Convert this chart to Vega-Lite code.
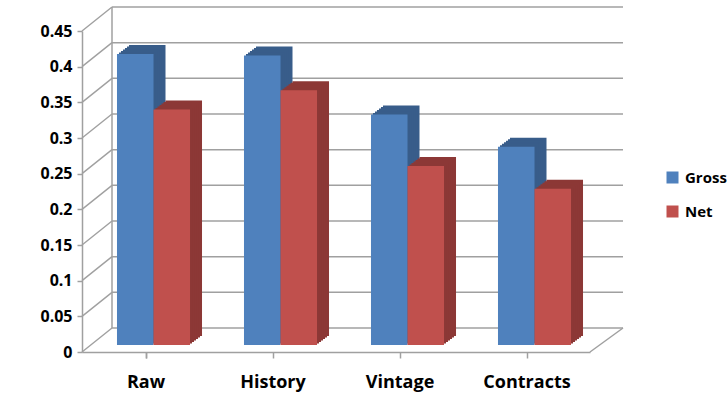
{
  "$schema": "https://vega.github.io/schema/vega-lite/v6.json",
  "width": 508,
  "height": 321,
  "autosize": {"type": "none"},
  "padding": {"left": 82, "top": 31, "right": 138, "bottom": 59},
  "background": "white",
  "config": {
    "view": {"stroke": null},
    "font": "Open Sans",
    "axis": {
      "labelFont": "Open Sans",
      "labelFontWeight": "bold",
      "labelColor": "#000000",
      "domainColor": "#a0a0a0",
      "tickColor": "#a0a0a0",
      "domainWidth": 1.5,
      "tickWidth": 1.5,
      "grid": false,
      "title": null
    },
    "axisX": {"labelFontSize": 18, "labelAngle": 0, "tickSize": 6, "labelPadding": 15, "tickBand": "extent"},
    "axisY": {"labelFontSize": 16, "tickSize": 5, "labelPadding": 5},
    "legend": {
      "orient": "none",
      "legendX": 583,
      "legendY": 139,
      "padding": 0,
      "labelFont": "Open Sans",
      "labelFontWeight": "bold",
      "labelFontSize": 15,
      "labelColor": "#000000",
      "symbolType": "square",
      "symbolSize": 144,
      "symbolStrokeWidth": 0,
      "rowPadding": 18,
      "labelOffset": 5
    }
  },
  "datasets": {
    "ticks": [{"t": 0}, {"t": 0.05}, {"t": 0.1}, {"t": 0.15}, {"t": 0.2}, {"t": 0.25}, {"t": 0.3}, {"t": 0.35}, {"t": 0.4}, {"t": 0.45}],
    "scores": [
      {"category": "Raw", "series": "Gross", "value": 0.408},
      {"category": "Raw", "series": "Net", "value": 0.33},
      {"category": "History", "series": "Gross", "value": 0.406},
      {"category": "History", "series": "Net", "value": 0.357},
      {"category": "Vintage", "series": "Gross", "value": 0.323},
      {"category": "Vintage", "series": "Net", "value": 0.251},
      {"category": "Contracts", "series": "Gross", "value": 0.278},
      {"category": "Contracts", "series": "Net", "value": 0.219}
    ]
  },
  "layer": [
    {
      "data": {"name": "ticks"},
      "mark": {"type": "rule", "color": "#a0a0a0", "strokeWidth": 1.5, "x2Offset": 30, "y2Offset": -24},
      "encoding": {
        "x": {"datum": 0, "type": "quantitative", "scale": {"domain": [0, 1]}, "axis": null},
        "x2": {"datum": 0},
        "y": {"field": "t", "type": "quantitative", "scale": {"domain": [0, 0.45], "nice": false}, "axis": null},
        "y2": {"field": "t"}
      }
    },
    {
      "data": {"name": "ticks"},
      "mark": {"type": "rule", "color": "#a0a0a0", "strokeWidth": 1.5, "xOffset": 30, "x2Offset": 33, "yOffset": -24, "y2Offset": -24},
      "encoding": {
        "x": {"datum": 0, "type": "quantitative", "scale": {"domain": [0, 1]}, "axis": null},
        "x2": {"datum": 1},
        "y": {"field": "t", "type": "quantitative", "scale": {"domain": [0, 0.45], "nice": false}, "axis": null},
        "y2": {"field": "t"}
      }
    },
    {
      "data": {"values": [{"lo": 0, "hi": 0.45}]},
      "mark": {"type": "rule", "color": "#a0a0a0", "strokeWidth": 1.5, "xOffset": 30, "x2Offset": 30, "yOffset": -24, "y2Offset": -24},
      "encoding": {
        "x": {"datum": 0, "type": "quantitative", "scale": {"domain": [0, 1]}, "axis": null},
        "x2": {"datum": 0},
        "y": {"field": "lo", "type": "quantitative", "scale": {"domain": [0, 0.45], "nice": false}, "axis": null},
        "y2": {"field": "hi"}
      }
    },
    {
      "data": {"values": [{"lo": 0}]},
      "mark": {"type": "rule", "color": "#a0a0a0", "strokeWidth": 1.5, "x2Offset": 33, "y2Offset": -24},
      "encoding": {
        "x": {"datum": 1, "type": "quantitative", "scale": {"domain": [0, 1]}, "axis": null},
        "x2": {"datum": 1},
        "y": {"field": "lo", "type": "quantitative", "scale": {"domain": [0, 0.45], "nice": false}, "axis": null},
        "y2": {"field": "lo"}
      }
    },
    {
      "data": {"name": "scores"},
      "mark": {"type": "point", "opacity": 0},
      "encoding": {
        "x": {"field": "category", "type": "nominal", "sort": null, "scale": {"paddingInner": 0.425, "paddingOuter": 0.2125}},
        "y": {"field": "value", "type": "quantitative", "scale": {"domain": [0, 0.45], "nice": false},
              "axis": {"values": [0, 0.05, 0.1, 0.15, 0.2, 0.25, 0.3, 0.35, 0.4, 0.45], "format": "~g"}}
      }
    },
    {
      "data": {"name": "scores"},
      "mark": {"type": "bar", "yOffset": -16, "y2Offset": -16},
      "encoding": {
        "x": {"field": "category", "type": "nominal", "sort": null, "axis": null,
              "scale": {"paddingInner": 0.425, "paddingOuter": 0.2125, "range": [20, 528]}},
        "xOffset": {"field": "series", "type": "nominal"},
        "y": {"field": "value", "type": "quantitative", "scale": {"domain": [0, 0.45], "nice": false}, "axis": null},
        "color": {"field": "series", "type": "nominal", "scale": {"domain": ["Gross", "Net"], "range": ["#385d8a", "#8c3836"]}, "legend": null}
      }
    },
    {
      "data": {"name": "scores"},
      "mark": {"type": "bar", "yOffset": -14.5, "y2Offset": -14.5},
      "encoding": {
        "x": {"field": "category", "type": "nominal", "sort": null, "axis": null,
              "scale": {"paddingInner": 0.425, "paddingOuter": 0.2125, "range": [18, 526]}},
        "xOffset": {"field": "series", "type": "nominal"},
        "y": {"field": "value", "type": "quantitative", "scale": {"domain": [0, 0.45], "nice": false}, "axis": null},
        "color": {"field": "series", "type": "nominal", "scale": {"domain": ["Gross", "Net"], "range": ["#385d8a", "#8c3836"]}, "legend": null}
      }
    },
    {
      "data": {"name": "scores"},
      "mark": {"type": "bar", "yOffset": -13, "y2Offset": -13},
      "encoding": {
        "x": {"field": "category", "type": "nominal", "sort": null, "axis": null,
              "scale": {"paddingInner": 0.425, "paddingOuter": 0.2125, "range": [16, 524]}},
        "xOffset": {"field": "series", "type": "nominal"},
        "y": {"field": "value", "type": "quantitative", "scale": {"domain": [0, 0.45], "nice": false}, "axis": null},
        "color": {"field": "series", "type": "nominal", "scale": {"domain": ["Gross", "Net"], "range": ["#385d8a", "#8c3836"]}, "legend": null}
      }
    },
    {
      "data": {"name": "scores"},
      "mark": {"type": "bar", "yOffset": -11.5, "y2Offset": -11.5},
      "encoding": {
        "x": {"field": "category", "type": "nominal", "sort": null, "axis": null,
              "scale": {"paddingInner": 0.425, "paddingOuter": 0.2125, "range": [14, 522]}},
        "xOffset": {"field": "series", "type": "nominal"},
        "y": {"field": "value", "type": "quantitative", "scale": {"domain": [0, 0.45], "nice": false}, "axis": null},
        "color": {"field": "series", "type": "nominal", "scale": {"domain": ["Gross", "Net"], "range": ["#385d8a", "#8c3836"]}, "legend": null}
      }
    },
    {
      "data": {"name": "scores"},
      "mark": {"type": "bar", "yOffset": -10, "y2Offset": -10},
      "encoding": {
        "x": {"field": "category", "type": "nominal", "sort": null, "axis": null,
              "scale": {"paddingInner": 0.425, "paddingOuter": 0.2125, "range": [12, 520]}},
        "xOffset": {"field": "series", "type": "nominal"},
        "y": {"field": "value", "type": "quantitative", "scale": {"domain": [0, 0.45], "nice": false}, "axis": null},
        "color": {"field": "series", "type": "nominal", "scale": {"domain": ["Gross", "Net"], "range": ["#385d8a", "#8c3836"]}, "legend": null}
      }
    },
    {
      "data": {"name": "scores"},
      "mark": {"type": "bar", "yOffset": -8.5, "y2Offset": -8.5},
      "encoding": {
        "x": {"field": "category", "type": "nominal", "sort": null, "axis": null,
              "scale": {"paddingInner": 0.425, "paddingOuter": 0.2125, "range": [10, 518]}},
        "xOffset": {"field": "series", "type": "nominal"},
        "y": {"field": "value", "type": "quantitative", "scale": {"domain": [0, 0.45], "nice": false}, "axis": null},
        "color": {"field": "series", "type": "nominal", "scale": {"domain": ["Gross", "Net"], "range": ["#385d8a", "#8c3836"]}, "legend": null}
      }
    },
    {
      "data": {"name": "scores"},
      "mark": {"type": "bar", "yOffset": -7, "y2Offset": -7},
      "encoding": {
        "x": {"field": "category", "type": "nominal", "sort": null, "axis": null,
              "scale": {"paddingInner": 0.425, "paddingOuter": 0.2125, "range": [8, 516]}},
        "xOffset": {"field": "series", "type": "nominal"},
        "y": {"field": "value", "type": "quantitative", "scale": {"domain": [0, 0.45], "nice": false}, "axis": null},
        "color": {"field": "series", "type": "nominal", "scale": {"domain": ["Gross", "Net"], "range": ["#4f81bd", "#c0504d"]}, "legend": {"title": null}}
      }
    }
  ],
  "resolve": {
    "scale": {"x": "independent", "y": "independent", "color": "independent"},
    "axis": {"x": "independent", "y": "independent"}
  }
}
